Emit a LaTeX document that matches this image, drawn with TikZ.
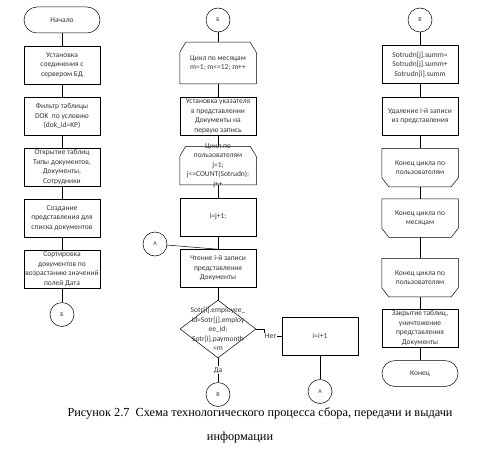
\documentclass[tikz,border=0pt]{standalone}
\usepackage{fontspec}
\setmainfont{Carlito}
\newfontfamily\capfont{Liberation Serif}
\usepackage{tikz}
\usetikzlibrary{shapes,positioning,calc}

\newcommand{\loopstart}[1]{%
  \draw ([xshift=6pt]#1.north west) -- ([xshift=-6pt]#1.north east) -- ([yshift=-10pt]#1.north east)
    -- (#1.south east) -- (#1.south west) -- ([yshift=-10pt]#1.north west) -- cycle;}
\newcommand{\loopfinish}[1]{%
  \draw (#1.north west) -- (#1.north east) -- ([yshift=9pt]#1.south east)
    -- ([xshift=-7pt]#1.south east) -- ([xshift=7pt]#1.south west) -- ([yshift=9pt]#1.south west) -- cycle;}

\begin{document}
\begin{tikzpicture}[x=1pt, y=-1pt, node distance=13pt, line width=0.5pt,
    every node/.style={font=\fontsize{7.5}{9.5}\selectfont, align=center, text=black!80},
    term/.style={draw, rectangle, rounded corners=13pt, minimum width=76pt, minimum height=26pt},
    proc/.style={draw, rectangle, minimum width=76pt, minimum height=38pt, inner sep=1pt},
    loopbox/.style={rectangle, minimum width=76pt, minimum height=38pt, inner sep=1pt},
    conn/.style={draw, circle, minimum size=24pt, inner sep=0pt, font=\fontsize{6}{7}\selectfont},
    dec/.style={draw, diamond, minimum width=76pt, minimum height=58pt, inner sep=0pt}]
    \useasboundingbox (0,0) rectangle (478,460);

    % first column
    \node [term] (start) at (62,20) {Начало};
    \node [proc, below=12.5pt of start] (connect) {Установка\\соединения с\\сервером БД};
    \node [proc, below=12.5pt of connect] (filter) {Фильтр таблицы\\DOK~ по условию\\(dok\_id=KP)};
    \node [proc, below=12.5pt of filter] (open) {Открытие таблиц\\Типы документов,\\Документы,\\Сотрудники};
    \node [proc, below=12.5pt of open] (view) {Создание\\представления для\\списка документов};
    \node [proc, below=12.5pt of view] (sort) {Сортировка\\документов по\\возрастанию значений\\полей Дата};
    \node [conn, below=14pt of sort] (B1) {Б};
    \draw (start) -- (connect) -- (filter) -- (open) -- (view) -- (sort) -- (B1);

    % second column
    \node [conn] (B2) at (218,20) {Б};
    \node [loopbox, minimum height=41pt, below=10pt of B2] (months) {Цикл по месяцам\\m=1; m<=12; m++};
    \loopstart{months}
    \node [proc, below=of months] (pointer) {Установка указателя\\в представлении\\Документы на\\первую запись};
    \node [loopbox, below=11pt of pointer] (users) {};
    \loopstart{users}
    \node [inner sep=0pt] (userstext) at (users) {Цикл по\\пользователям\\j=1;\\j<=COUNT(Sotrudn);\\j++};
    \node [proc, below=of users] (next) {i=j+1;};
    \node [proc, below=of next] (read) {Чтение i-й записи\\представления\\Документы};
    \node [dec, below=12pt of read] (check) {};
    \node [inner sep=0pt] (checktext) at (check) {Sotr[i].employee\_\\id=Sotr[j].employ\\ee\_id;\\Sotr[i].paymonth\\=m};
    \node [conn, below=24pt of check] (V1) {В};
    \node [conn] (A1) at (155,244) {А};
    \node [proc] (inc) at (320,336) {i=i+1};
    \node [conn, below=24pt of inc] (A2) {А};
    \draw (B2) -- (months) -- (pointer) -- (users) -- (next) -- (read) -- (check);
    \draw (A1) -- (read.north);
    \draw (check) -- node [fill=white, inner sep=1pt] (yes) {Да} (V1);
    \draw (check.east) -- ++(8,0) |- node [pos=0.68, fill=white, inner sep=1pt] (no) {Нет} (inc.west);
    \draw (inc) -- (A2);

    % third column
    \node [conn] (V2) at (420,20) {В};
    \node [proc, below=of V2] (sum) {Sotrudn[j].summ=\\Sotrudn[j].summ+\\Sotrudn[i].summ};
    \node [proc, below=of sum] (remove) {Удаление i-й записи\\из представления};
    \node [loopbox, below=of remove] (end1) {Конец цикла по\\пользователям};
    \loopfinish{end1}
    \node [loopbox, below=12pt of end1] (end2) {Конец цикла по\\месяцам};
    \loopfinish{end2}
    \node [loopbox, below=21pt of end2] (end3) {Конец цикла по\\пользователям};
    \loopfinish{end3}
    \node [proc, below=12pt of end3] (close) {Закрытие таблиц,\\уничтожение\\представления\\Документы};
    \node [term, below=of close] (stop) {Конец};
    \draw (V2) -- (sum) -- (remove) -- (end1) -- (end2) -- (end3) -- (close) -- (stop);

    % caption
    \node [font=\capfont\fontsize{12.3}{14}\selectfont, text=black] (cap1) at (260,413)
        {Рисунок 2.7~ Схема технологического процесса сбора, передачи и выдачи};
    \node [font=\capfont\fontsize{12.3}{14}\selectfont, text=black] (cap2) at (240,438) {информации};
\end{tikzpicture}
\end{document}
